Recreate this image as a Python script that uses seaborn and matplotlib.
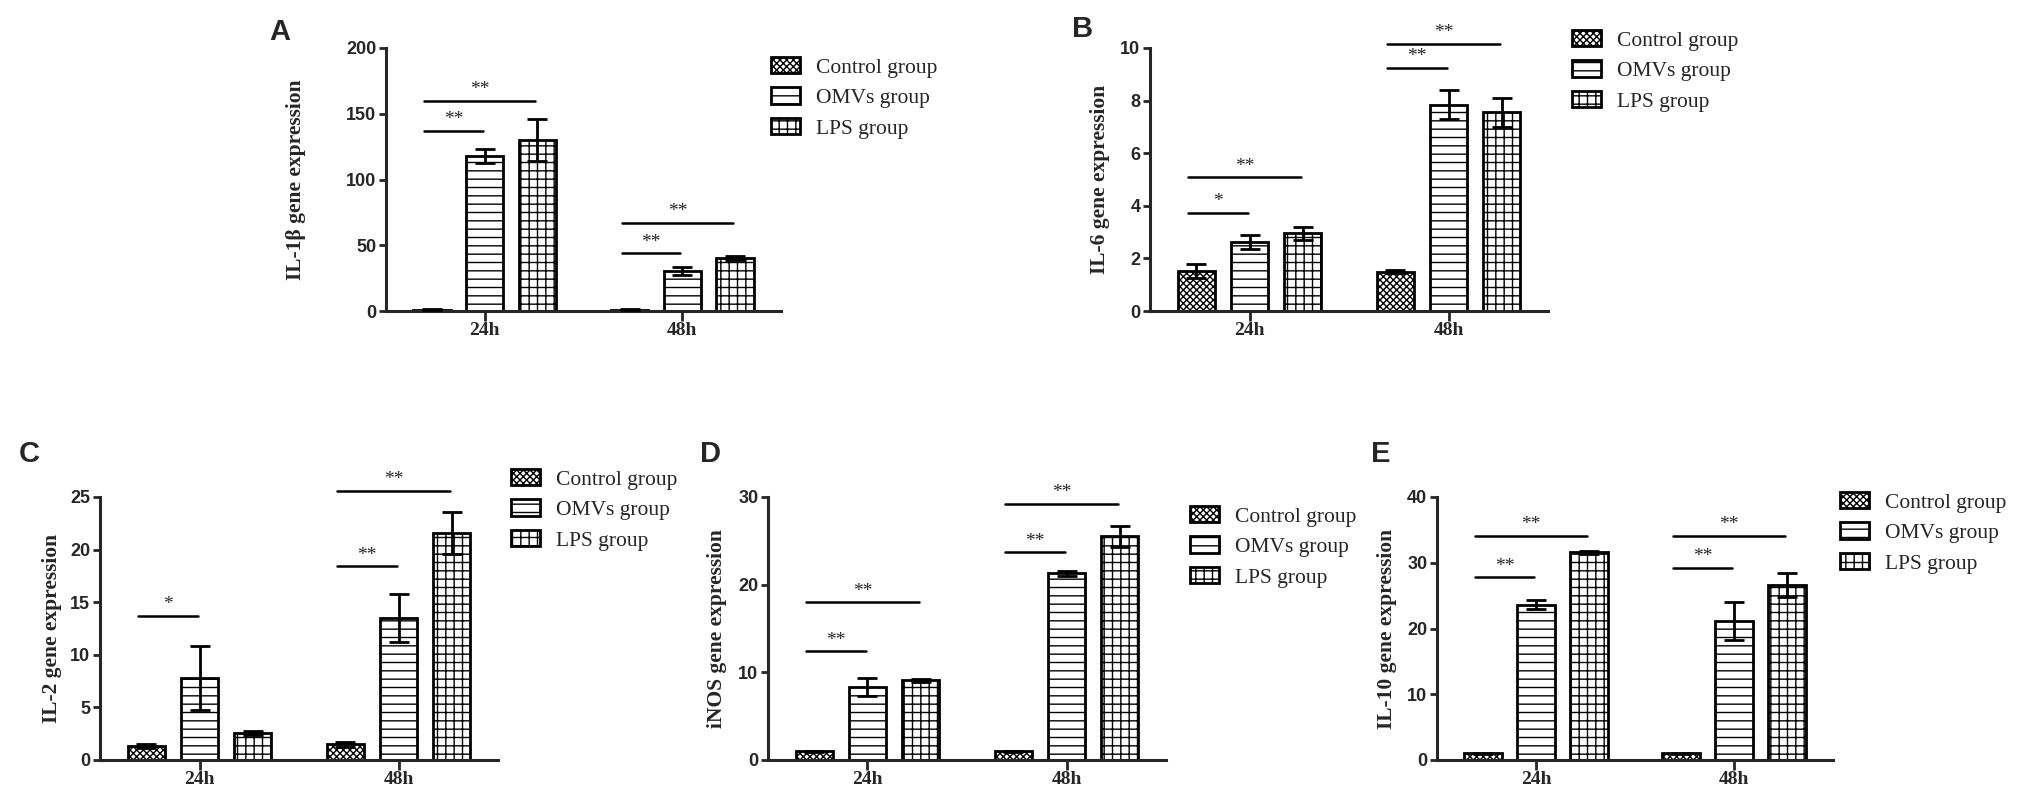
import matplotlib
matplotlib.use("Agg")
import matplotlib.pyplot as plt
from matplotlib.patches import Patch
import seaborn as sns
import pandas as pd

sns.set_style("ticks")
plt.rcParams["hatch.linewidth"] = 1.0
plt.rcParams["font.family"] = ["Liberation Sans", "DejaVu Sans"]

# ---- data ----
times = ["24h", "48h"]
groups = ["Control group", "OMVs group", "LPS group"]

il1b_ctrl = [1.0, 1.0]
il1b_ctrl_err = [0.3, 0.3]
il1b_omv = [118, 30.5]
il1b_omv_err = [5.5, 3.2]
il1b_lps = [130, 40.5]
il1b_lps_err = [16, 1.5]
il1b_sig = [("24h", "OMVs group", 137, "**"), ("24h", "LPS group", 160, "**"),
            ("48h", "OMVs group", 44, "**"), ("48h", "LPS group", 67, "**")]

il6_ctrl = [1.52, 1.5]
il6_ctrl_err = [0.25, 0.05]
il6_omv = [2.62, 7.85]
il6_omv_err = [0.27, 0.55]
il6_lps = [2.95, 7.55]
il6_lps_err = [0.24, 0.55]
il6_sig = [("24h", "OMVs group", 3.73, "*"), ("24h", "LPS group", 5.09, "**"),
           ("48h", "OMVs group", 9.24, "**"), ("48h", "LPS group", 10.15, "**")]

il2_ctrl = [1.33, 1.5]
il2_ctrl_err = [0.15, 0.25]
il2_omv = [7.8, 13.5]
il2_omv_err = [3.0, 2.3]
il2_lps = [2.55, 21.6]
il2_lps_err = [0.2, 2.0]
il2_sig = [("24h", "OMVs group", 13.7, "*"),
           ("48h", "OMVs group", 18.4, "**"), ("48h", "LPS group", 25.6, "**")]

inos_ctrl = [1.0, 1.0]
inos_ctrl_err = [0.05, 0.05]
inos_omv = [8.35, 21.3]
inos_omv_err = [1.05, 0.3]
inos_lps = [9.1, 25.5]
inos_lps_err = [0.15, 1.2]
inos_sig = [("24h", "OMVs group", 12.4, "**"), ("24h", "LPS group", 18.0, "**"),
            ("48h", "OMVs group", 23.7, "**"), ("48h", "LPS group", 29.2, "**")]

il10_ctrl = [1.0, 1.0]
il10_ctrl_err = [0.05, 0.1]
il10_omv = [23.6, 21.2]
il10_omv_err = [0.7, 2.9]
il10_lps = [31.6, 26.6]
il10_lps_err = [0.25, 1.8]
il10_sig = [("24h", "OMVs group", 27.8, "**"), ("24h", "LPS group", 34.1, "**"),
            ("48h", "OMVs group", 29.2, "**"), ("48h", "LPS group", 34.1, "**")]

panels = [
    # letter, ylabel, means, errs, sig, ymax, step
    ("A", "IL-1β gene expression", [il1b_ctrl, il1b_omv, il1b_lps],
     [il1b_ctrl_err, il1b_omv_err, il1b_lps_err], il1b_sig, 200, 50),
    ("B", "IL-6 gene expression", [il6_ctrl, il6_omv, il6_lps],
     [il6_ctrl_err, il6_omv_err, il6_lps_err], il6_sig, 10, 2),
    ("C", "IL-2 gene expression", [il2_ctrl, il2_omv, il2_lps],
     [il2_ctrl_err, il2_omv_err, il2_lps_err], il2_sig, 25, 5),
    ("D", "iNOS gene expression", [inos_ctrl, inos_omv, inos_lps],
     [inos_ctrl_err, inos_omv_err, inos_lps_err], inos_sig, 30, 10),
    ("E", "IL-10 gene expression", [il10_ctrl, il10_omv, il10_lps],
     [il10_ctrl_err, il10_omv_err, il10_lps_err], il10_sig, 40, 10),
]

# ---- layout (pixels of a 2033x808 canvas) ----
W, H = 2033, 808
hatches = ["xxxxx", "--", "++"]
axes_px = {"A": (386, 48, 395, 263), "B": (1150, 48, 398, 263),
           "C": (100, 497, 398, 263), "D": (768, 497, 398, 263),
           "E": (1437, 497, 396, 263)}
label_x = {"A": -0.228, "B": -0.126, "C": -0.12, "D": -0.128, "E": -0.126}
letter_px = {"A": (280, 32), "B": (1083, 29), "C": (29, 454),
             "D": (711, 454), "E": (1381, 454)}
legend_px = {"A": (771, 57), "B": (1572, 30), "C": (511, 469),
             "D": (1190, 506), "E": (1840, 492)}

serif = ["Liberation Serif", "DejaVu Serif"]
sans = ["Liberation Sans", "DejaVu Sans"]

fig = plt.figure(figsize=(W / 100, H / 100), dpi=100)

for letter, ylabel, means, errs, sig, ymax, step in panels:
    x, y, w, h = axes_px[letter]
    ax = fig.add_axes([x / W, 1 - (y + h) / H, w / W, h / H])

    df = pd.DataFrame({
        "time": times * 3,
        "group": [g for g in groups for _ in times],
        "value": [v for m in means for v in m],
        "err": [e for es in errs for e in es],
    })
    sns.barplot(data=df, x="time", y="value", hue="group", order=times,
                hue_order=groups, errorbar=None, width=0.8, gap=0.29,
                palette=["white"] * 3, edgecolor="black", linewidth=2.0,
                legend=False, ax=ax)

    bar_conts = list(ax.containers)
    centers = {}
    for gi, cont in enumerate(bar_conts):
        g = groups[gi]
        for ti, bar in enumerate(cont):
            bar.set_hatch(hatches[gi])
            bar.set_edgecolor("black")
            bar.set_facecolor("white")
            cx = bar.get_x() + bar.get_width() / 2
            centers[(times[ti], g)] = cx
            row = df[(df.group == g) & (df.time == times[ti])].iloc[0]
            ax.errorbar(cx, row.value, yerr=row.err, fmt="none", ecolor="black",
                        elinewidth=2.0, capsize=7, capthick=2.0, zorder=4)

    # significance brackets
    for t, target, yv, star in sig:
        x0 = centers[(t, "Control group")] - 0.04
        x1 = centers[(t, target)] - 0.01
        ax.plot([x0, x1], [yv, yv], color="black", lw=1.8, clip_on=False)
        ax.annotate(star, xy=((x0 + x1) / 2, yv), xytext=(0, 8),
                    textcoords="offset points", ha="center", va="center",
                    fontsize=14, family=serif, annotation_clip=False)

    ax.set_xlim(-0.5, 1.5)
    ax.set_ylim(0, ymax)
    ax.set_yticks(range(0, ymax + 1, step))
    sns.despine(ax=ax)
    for side in ("left", "bottom"):
        ax.spines[side].set_linewidth(2.2)
    ax.tick_params(axis="y", length=5, width=2, labelsize=13, pad=2)
    ax.tick_params(axis="x", length=7, width=2, pad=1)
    for lab in ax.get_yticklabels():
        lab.set_fontweight("bold")
        lab.set_family(sans)
    for lab in ax.get_xticklabels():
        lab.set_fontweight("bold")
        lab.set_family(serif)
        lab.set_fontsize(14)
    ax.set_xlabel("")
    ax.set_ylabel(ylabel, fontsize=15.5, fontweight="bold", family=serif)
    ax.yaxis.label.set_verticalalignment("center")
    ax.yaxis.set_label_coords(label_x[letter], 0.5)

    lx, ly = letter_px[letter]
    fig.text(lx / W, 1 - ly / H, letter, fontsize=21, fontweight="bold",
             family=sans, ha="center", va="center")

    handles = [Patch(facecolor="white", edgecolor="black", hatch=hatches[i],
                     linewidth=2.0) for i in range(3)]
    gx, gy = legend_px[letter]
    fig.legend(handles, groups, loc="upper left",
               bbox_to_anchor=(gx / W, 1 - gy / H), frameon=False,
               borderpad=0, borderaxespad=0, handlelength=1.35,
               handleheight=0.8, handletextpad=0.75, labelspacing=0.45,
               prop={"family": serif, "size": 15.5})

fig.savefig("out.png", dpi=100)
